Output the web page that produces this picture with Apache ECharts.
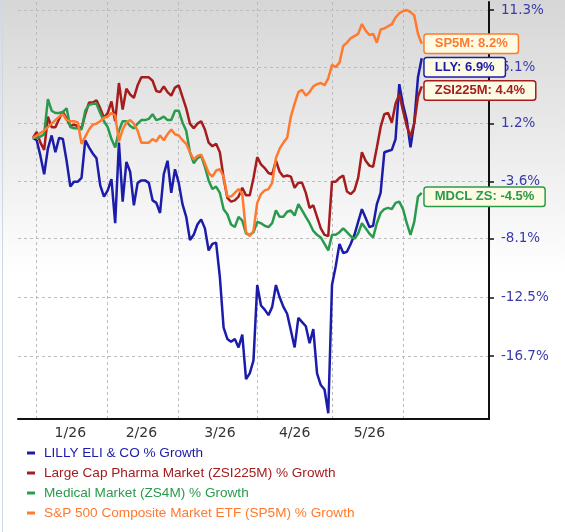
<!DOCTYPE html>
<html><head><meta charset="utf-8">
<script src="https://cdn.jsdelivr.net/npm/echarts@6/dist/echarts.min.js"></script>
<style>html,body{margin:0;padding:0;background:#fff}#c{width:565px;height:532px}</style>
</head><body><div id="c"></div>
<script>
// trading-day slots along the x axis
const dayCount = 127;
const firstDay = 4;
const categories = Array.from({length: dayCount}, (_, i) => 'day' + i);
const monthLabels = ['1/26', '2/26', '3/26', '4/26', '5/26'];
const monthLabelDays = [14, 33, 54, 74, 94];
const monthStartDays = [5, 24, 43, 64, 84, 103];
const yTickLabels = [-16.7, -12.5, -8.1, -3.6, 1.2, 6.1, 11.3];

const seriesNames = [
  'LILLY ELI & CO % Growth',
  'Large Cap Pharma Market (ZSI225M) % Growth',
  'Medical Market (ZS4M) % Growth',
  'S&P 500 Composite Market ETF (SP5M) % Growth'
];
const shortNames = ['LLY', 'ZSI225M', 'MDCL ZS', 'SP5M'];
const colors = ['#1c1caa', '#a51c1c', '#2a9a4c', '#ff7a2e'];

// % growth values
const lly = [0, -0.2, -1.5, -3.0, -0.9, 0.2, -1.2, 0.0, -0.1, -1.9,
  -4.0, -3.6, -3.6, -3.3, -0.2, -0.8, -1.3, -1.7, -3.9, -4.8,
  -4.3, -3.4, -6.9, -0.4, -5.2, -2.0, -2.8, -5.5, -3.7, -3.5,
  -3.5, -3.7, -5.1, -5.3, -6.1, -3.0, -1.9, -4.5, -2.6, -3.7,
  -5.4, -6.4, -8.2, -7.8, -7.0, -6.6, -7.3, -9.0, -8.5, -8.4,
  -11.0, -14.7, -15.5, -15.7, -15.5, -16.1, -15.2, -18.3, -17.9, -17.0,
  -11.6, -13.1, -13.4, -13.8, -13.2, -11.6, -12.5, -13.2, -13.7, -14.9,
  -16.1, -14.0, -14.3, -14.6, -15.8, -14.8, -17.9, -18.7, -19.0, -20.6,
  -11.6, -10.2, -8.5, -9.2, -9.1, -8.5, -7.8, -6.8, -5.8, -6.5,
  -7.2, -7.1, -5.4, -4.5, -1.2, -1.1, -1.0, -0.1, 4.6, 2.8,
  1.5, -0.8, 1.3, 5.2, 6.9];
const zsi225m = [0, 0.5, -0.4, -1.0, 1.8, 0.9, 0.9, 1.6, 2.2, 1.6,
  1.0, 1.1, 1.0, 0.8, 2.0, 3.0, 3.0, 3.2, 2.5, 1.7,
  2.1, 3.1, 1.4, 4.7, 2.4, 4.2, 3.7, 3.4, 4.5, 5.2,
  5.2, 5.2, 4.9, 4.0, 3.9, 4.4, 3.9, 3.6, 4.3, 4.5,
  3.5, 2.5, 1.2, 0.8, 1.2, 1.4, 0.7, -0.4, -0.7, -0.5,
  -1.2, -3.3, -4.9, -5.2, -5.1, -4.8, -4.1, -4.7, -4.7, -3.3,
  -1.6, -2.2, -2.5, -2.9, -3.0, -1.9, -2.8, -3.2, -3.1, -3.2,
  -4.1, -3.7, -3.7, -4.5, -5.7, -5.5, -6.4, -7.3, -7.8, -7.9,
  -3.6, -3.6, -3.3, -3.1, -4.4, -4.6, -4.3, -3.3, -1.2, -1.9,
  -2.3, -2.4, -0.8, 0.9, 2.0, 2.1, 1.3, 2.9, 3.7, 2.3,
  1.0, 0.1, 1.2, 3.5, 4.4];
const zs4m = [0, 0.0, 0.1, 0.3, 3.3, 2.3, 2.1, 2.1, 2.2, 2.5,
  0.9, 0.8, 0.8, 0.7, 2.3, 2.8, 2.9, 2.9, 2.1, 1.4,
  0.9, -0.1, -0.8, 0.6, 1.4, 1.4, 1.0, 0.8, 1.2, 1.5,
  1.5, 1.6, 2.0, 1.5, 1.6, 1.8, 1.5, 1.5, 2.3, 2.3,
  1.3, 0.6, -1.2, -2.1, -1.7, -1.5, -2.4, -3.5, -4.2, -4.0,
  -4.5, -5.8, -6.2, -7.0, -7.2, -6.4, -6.7, -7.7, -7.8, -7.6,
  -6.8, -6.9, -7.1, -7.2, -6.9, -5.9, -6.4, -6.4, -6.0, -5.9,
  -6.3, -5.4, -5.9, -6.4, -6.9, -7.5, -7.8, -8.0, -8.5, -9.0,
  -7.8, -7.8, -7.6, -7.3, -7.6, -7.9, -8.1, -7.7, -6.9, -7.3,
  -7.7, -8.0, -6.9, -6.1, -5.8, -5.7, -5.8, -5.3, -5.2, -5.8,
  -6.9, -7.8, -6.8, -4.8, -4.5];
const sp5m = [0, 0.2, 0.4, 0.6, 0.9, 1.2, 1.5, 1.8, 2.0, 1.5,
  1.4, 1.4, 1.3, -0.5, 0.1, 0.7, 1.1, 1.2, 1.4, 1.7,
  1.8, 2.1, 1.9, -0.3, 0.7, 1.3, 1.5, 1.2, 0.6, -0.4,
  -0.4, -0.4, -0.1, -0.3, 0.2, -0.2, 0.3, 0.7, 0.3, 0.2,
  -0.2, -0.5, -1.2, -1.8, -1.5, -1.4, -2.1, -2.9, -3.2, -2.7,
  -2.6, -3.2, -4.8, -4.8, -4.5, -4.2, -4.6, -7.6, -7.9, -7.5,
  -5.3, -4.6, -4.3, -4.2, -3.7, -1.7, -0.9, -0.4, 0.0, 1.8,
  2.9, 3.9, 4.1, 3.6, 3.9, 4.4, 4.6, 4.7, 4.5, 5.1,
  6.3, 6.1, 6.5, 8.0, 8.3, 8.7, 8.9, 9.1, 10.0, 9.4,
  9.0, 9.1, 8.3, 9.5, 9.6, 9.8, 10.0, 10.6, 11.0, 11.2,
  11.3, 11.1, 10.8, 9.1, 8.2];

const allSeries = [lly, zsi225m, zs4m, sp5m];
const labelShift = [9, 4, 4, 0];

// growth % -> index level (100 = start) for the logarithmic axis
const toLevel = g => 100 + g;
const fmtPct = v => { if (v < 10) v = Math.pow(10, v); return (v - 100).toFixed(1) + '%'; };
const yTickValues = yTickLabels.map(toLevel);

const chart = echarts.init(document.getElementById('c'), null, {renderer: 'canvas'});
const font = 'DejaVu Sans';
const sans = 'Liberation Sans';

chart.setOption({
  animation: false,
  backgroundColor: new echarts.graphic.LinearGradient(0, 0, 0, 1, [
    {offset: 0, color: '#d6d6d6'}, {offset: 0.52, color: '#ffffff'}, {offset: 1, color: '#ffffff'}
  ]),
  textStyle: {fontFamily: font},
  graphic: [{
    type: 'line', shape: {x1: 2.5, y1: 0, x2: 2.5, y2: 532},
    style: {stroke: '#c9d9ea', lineWidth: 1}, silent: true
  }],
  grid: {left: 18, right: 76, top: 2, bottom: 113, containLabel: false},
  xAxis: {
    type: 'category',
    data: categories,
    boundaryGap: false,
    axisLine: {show: true, lineStyle: {color: '#111', width: 2}},
    axisTick: {show: false},
    axisLabel: {
      interval: (idx) => monthLabelDays.includes(idx),
      formatter: (val, idx) => monthLabels[monthLabelDays.indexOf(idx)] || '',
      color: '#333', fontSize: 14, fontFamily: font, margin: 7
    },
    splitLine: {
      show: true,
      interval: (idx) => monthStartDays.includes(idx),
      lineStyle: {color: '#bcbcbc', type: [3, 3], width: 1}
    }
  },
  yAxis: {
    type: 'log',
    logBase: 10,
    position: 'right',
    min: 79.02,
    max: 112.05,
    axisLine: {show: true, lineStyle: {color: '#111', width: 2}},
    axisTick: {show: true, length: 5, customValues: yTickValues, lineStyle: {color: '#111', width: 1.5}},
    axisLabel: {customValues: yTickValues, formatter: fmtPct, color: '#3a3aa8', fontSize: 13.5, fontFamily: font, margin: 12},
    splitLine: {show: true, lineStyle: {color: '#bcbcbc', type: [3, 3], width: 1}}
  },
  legend: {
    orient: 'vertical',
    left: 22,
    top: 440,
    itemWidth: 8,
    itemHeight: 3,
    itemGap: 4,
    icon: 'rect',
    selectedMode: false,
    textStyle: {fontSize: 13.6, fontFamily: sans, lineHeight: 16, padding: [0, 0, 0, 4]},
    data: seriesNames.map((n, k) => ({name: n, textStyle: {color: colors[k]}}))
  },
  series: allSeries.map((arr, k) => ({
    name: seriesNames[k],
    type: 'line',
    showSymbol: false,
    symbol: 'none',
    data: Array(firstDay).fill(null).concat(arr.map(toLevel)),
    lineStyle: {color: colors[k], width: 2.5},
    itemStyle: {color: colors[k]},
    z: 2 + k,
    endLabel: {
      show: true,
      formatter: (p) => shortNames[k] + ': ' + fmtPct(p.value),
      color: colors[k],
      fontSize: 13,
      fontWeight: 'bold',
      fontFamily: sans,
      backgroundColor: '#fdfbe4',
      borderColor: colors[k],
      borderWidth: 1.5,
      borderRadius: 2,
      padding: [3, 10, 2, 10],
      distance: 3,
      offset: [0, labelShift[k]]
    }
  }))
});
</script></body></html>
